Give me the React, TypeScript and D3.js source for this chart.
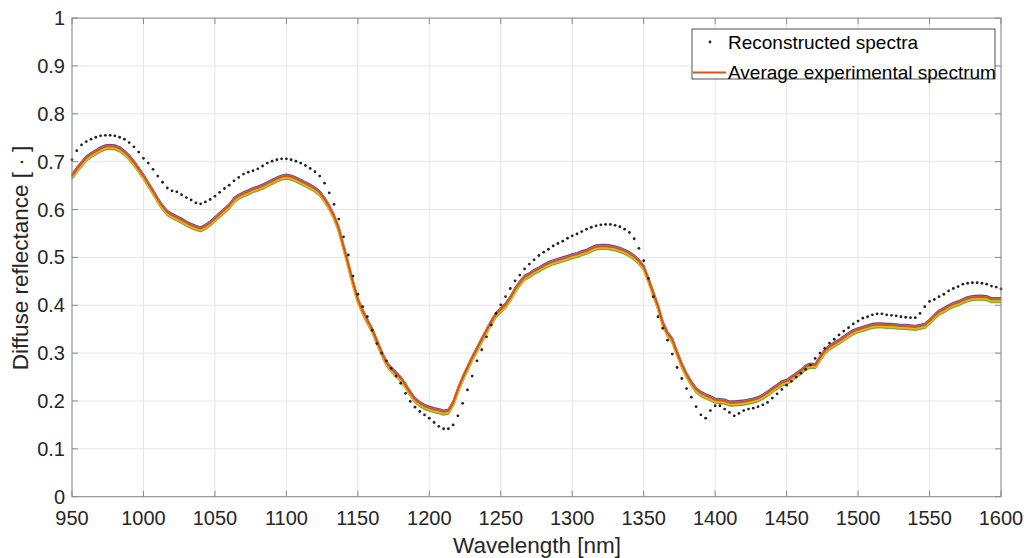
import React from "react";
import * as d3 from "d3";

// Wavelength sampling grid (nm)
const WL_START = 950;
const WL_STEP = 10 / 3;

// Reconstructed spectra (dotted markers)
const reconstructed = [
  0.704, 0.723, 0.735, 0.742, 0.747, 0.751, 0.754, 0.755, 0.755, 0.754, 0.751, 0.747, 0.740, 0.731, 0.720, 0.707, 0.697, 0.684, 0.670, 0.657,
  0.645, 0.639, 0.637, 0.631, 0.625, 0.620, 0.614, 0.612, 0.616, 0.621, 0.628, 0.636, 0.644, 0.651, 0.660, 0.667, 0.674, 0.678, 0.681, 0.685,
  0.691, 0.697, 0.701, 0.704, 0.706, 0.706, 0.704, 0.701, 0.697, 0.692, 0.686, 0.679, 0.670, 0.655, 0.635, 0.611, 0.580, 0.543, 0.505, 0.461,
  0.423, 0.397, 0.376, 0.348, 0.320, 0.300, 0.284, 0.268, 0.252, 0.237, 0.216, 0.199, 0.187, 0.178, 0.171, 0.164, 0.155, 0.147, 0.142,
  0.142, 0.150, 0.169, 0.195, 0.223, 0.252, 0.284, 0.307, 0.334, 0.359, 0.383, 0.401, 0.418, 0.435, 0.451, 0.463, 0.476, 0.486, 0.495, 0.504,
  0.511, 0.517, 0.524, 0.529, 0.534, 0.540, 0.545, 0.549, 0.554, 0.559, 0.563, 0.566, 0.568, 0.569, 0.569, 0.567, 0.564, 0.559,
  0.552, 0.539, 0.519, 0.493, 0.456, 0.418, 0.376, 0.352, 0.327, 0.298, 0.270, 0.247, 0.226, 0.208, 0.188, 0.171, 0.164, 0.180, 0.190, 0.190,
  0.183, 0.176, 0.169, 0.174, 0.180, 0.183, 0.185, 0.188, 0.192, 0.197, 0.206, 0.215, 0.224, 0.233, 0.241, 0.250, 0.258, 0.266, 0.275,
  0.289, 0.300, 0.310, 0.321, 0.329, 0.338, 0.346, 0.353, 0.361, 0.367, 0.373, 0.376, 0.380, 0.382, 0.382, 0.380, 0.379, 0.378, 0.376, 0.375,
  0.374, 0.374, 0.383, 0.397, 0.408, 0.412, 0.418, 0.423, 0.430, 0.435, 0.439, 0.444, 0.446, 0.447, 0.447, 0.446, 0.444, 0.440, 0.438, 0.434,
];

// Average experimental spectrum (solid)
const averageExperimental = [
  0.669, 0.683, 0.695, 0.707, 0.714, 0.720, 0.726, 0.730, 0.731, 0.730, 0.726, 0.719, 0.709, 0.697, 0.683, 0.669, 0.653, 0.637, 0.620, 0.605,
  0.593, 0.587, 0.582, 0.577, 0.571, 0.566, 0.562, 0.559, 0.564, 0.571, 0.580, 0.589, 0.598, 0.607, 0.620, 0.627, 0.632, 0.636, 0.641, 0.644,
  0.648, 0.653, 0.658, 0.663, 0.667, 0.669, 0.667, 0.663, 0.658, 0.653, 0.648, 0.642, 0.634, 0.621, 0.605, 0.585, 0.559, 0.522, 0.484, 0.446,
  0.411, 0.387, 0.367, 0.348, 0.324, 0.300, 0.279, 0.266, 0.256, 0.246, 0.232, 0.216, 0.202, 0.194, 0.188, 0.184, 0.181, 0.179, 0.176,
  0.178, 0.195, 0.223, 0.247, 0.268, 0.289, 0.308, 0.327, 0.346, 0.364, 0.380, 0.390, 0.400, 0.414, 0.432, 0.446, 0.458, 0.463, 0.470, 0.475,
  0.481, 0.486, 0.490, 0.493, 0.496, 0.499, 0.503, 0.505, 0.509, 0.512, 0.517, 0.521, 0.522, 0.522, 0.521, 0.519, 0.516, 0.512,
  0.507, 0.500, 0.491, 0.479, 0.453, 0.425, 0.397, 0.362, 0.340, 0.327, 0.300, 0.275, 0.254, 0.237, 0.223, 0.215, 0.210, 0.206, 0.201, 0.200,
  0.199, 0.195, 0.195, 0.196, 0.197, 0.199, 0.201, 0.204, 0.209, 0.216, 0.223, 0.230, 0.237, 0.240, 0.247, 0.254, 0.261, 0.270, 0.274,
  0.273, 0.289, 0.303, 0.312, 0.318, 0.324, 0.331, 0.338, 0.344, 0.348, 0.351, 0.354, 0.357, 0.358, 0.358, 0.357, 0.357, 0.356, 0.355, 0.355,
  0.354, 0.353, 0.355, 0.357, 0.366, 0.376, 0.385, 0.390, 0.396, 0.401, 0.404, 0.409, 0.413, 0.415, 0.416, 0.416, 0.415, 0.411, 0.411, 0.411,
];

// Individual experimental spectra: deviation from the average
const spectraOffsets = [0.0048, 0.0038, 0.0025, -0.0032, -0.0045, -0.0008];
const spectraColors = ["#5a6fb8", "#7E2F8E", "#4DBEEE", "#A2142F", "#77AC30", "#EDB120"];
const spectraWidths = [1.5, 1.5, 1.5, 1.6, 2.2, 3.2];
const averageOffset = 0.0015;

const xTicks = [950, 1000, 1050, 1100, 1150, 1200, 1250, 1300, 1350, 1400, 1450, 1500, 1550, 1600];
const yTicks = [0, 0.1, 0.2, 0.3, 0.4, 0.5, 0.6, 0.7, 0.8, 0.9, 1];
const yTickLabels = ["0", "0.1", "0.2", "0.3", "0.4", "0.5", "0.6", "0.7", "0.8", "0.9", "1"];

const legendLabels = ["Reconstructed spectra", "Average experimental spectrum"];

const W = 1030;
const H = 558;
const FONT = "'Liberation Sans', Arial, Helvetica, sans-serif";

export default function App() {
  const x = d3.scaleLinear().domain([950, 1600]).range([72, 1001]);
  const y = d3.scaleLinear().domain([0, 1]).range([496.7, 18.1]);
  const wl = reconstructed.map((_, k) => WL_START + k * WL_STEP);

  const line = d3
    .line<number>()
    .x((_, i) => x(wl[i]))
    .y((d) => y(d));

  const [x0, x1] = x.range();
  const [y0, y1] = y.range();
  const axisColor = "#8a8a8a";
  const textColor = "#262626";
  const gridColor = "#e6e6e6";
  const tickLen = 6;

  return (
    <svg width={W} height={H} style={{ position: "absolute", left: 0, top: 0, background: "#fff" }}>
      <rect x={0} y={0} width={W} height={H} fill="#fff" />
      {/* grid */}
      {xTicks.map((t) => (
        <line key={"gx" + t} x1={x(t)} x2={x(t)} y1={y0} y2={y1} stroke={gridColor} strokeWidth={1} />
      ))}
      {yTicks.map((t) => (
        <line key={"gy" + t} x1={x0} x2={x1} y1={y(t)} y2={y(t)} stroke={gridColor} strokeWidth={1} />
      ))}

      {/* experimental spectra bundle */}
      {spectraOffsets.map((off, s) => (
        <path
          key={"sp" + s}
          d={line(averageExperimental.map((v) => v + off)) || ""}
          fill="none"
          stroke={spectraColors[s]}
          strokeWidth={spectraWidths[s]}
          strokeLinejoin="round"
        />
      ))}
      {/* average */}
      <path
        d={line(averageExperimental.map((v) => v + averageOffset)) || ""}
        fill="none"
        stroke="#D95319"
        strokeWidth={2}
        strokeLinejoin="round"
      />
      {/* reconstructed dots */}
      {reconstructed.map((v, i) => (
        <circle key={"d" + i} cx={x(wl[i])} cy={y(v)} r={1.4} fill="#222" />
      ))}

      {/* box */}
      <rect x={x0} y={y1} width={x1 - x0} height={y0 - y1} fill="none" stroke={axisColor} strokeWidth={1} />
      {/* ticks */}
      {xTicks.map((t) => (
        <g key={"tx" + t}>
          <line x1={x(t)} x2={x(t)} y1={y0} y2={y0 - tickLen} stroke={axisColor} />
          <line x1={x(t)} x2={x(t)} y1={y1} y2={y1 + tickLen} stroke={axisColor} />
          <text x={x(t)} y={525} textAnchor="middle" fontFamily={FONT} fontSize={20} fill={textColor}>
            {t}
          </text>
        </g>
      ))}
      {yTicks.map((t, i) => (
        <g key={"ty" + t}>
          <line x1={x0} x2={x0 + tickLen} y1={y(t)} y2={y(t)} stroke={axisColor} />
          <line x1={x1} x2={x1 - tickLen} y1={y(t)} y2={y(t)} stroke={axisColor} />
          <text x={65} y={y(t) + 7} textAnchor="end" fontFamily={FONT} fontSize={20} fill={textColor}>
            {yTickLabels[i]}
          </text>
        </g>
      ))}

      {/* axis labels */}
      <text x={537} y={553} textAnchor="middle" fontFamily={FONT} fontSize={22.5} fill={textColor}>
        Wavelength [nm]
      </text>
      <text
        transform={`translate(28,258) rotate(-90)`}
        textAnchor="middle"
        fontFamily={FONT}
        fontSize={22.5}
        fill={textColor}
      >
        Diffuse reflectance [ · ]
      </text>

      {/* legend */}
      <g>
        <rect x={692} y={29} width={303} height={50} fill="#fff" stroke="#262626" strokeWidth={0.8} />
        <circle cx={710} cy={42} r={1.4} fill="#222" />
        <line x1={693} x2={726} y1={72.5} y2={72.5} stroke="#D95319" strokeWidth={2} />
        <text x={728} y={49} fontFamily={FONT} fontSize={19} fill="#000">
          {legendLabels[0]}
        </text>
        <text x={728} y={79} fontFamily={FONT} fontSize={19} fill="#000">
          {legendLabels[1]}
        </text>
      </g>
    </svg>
  );
}
